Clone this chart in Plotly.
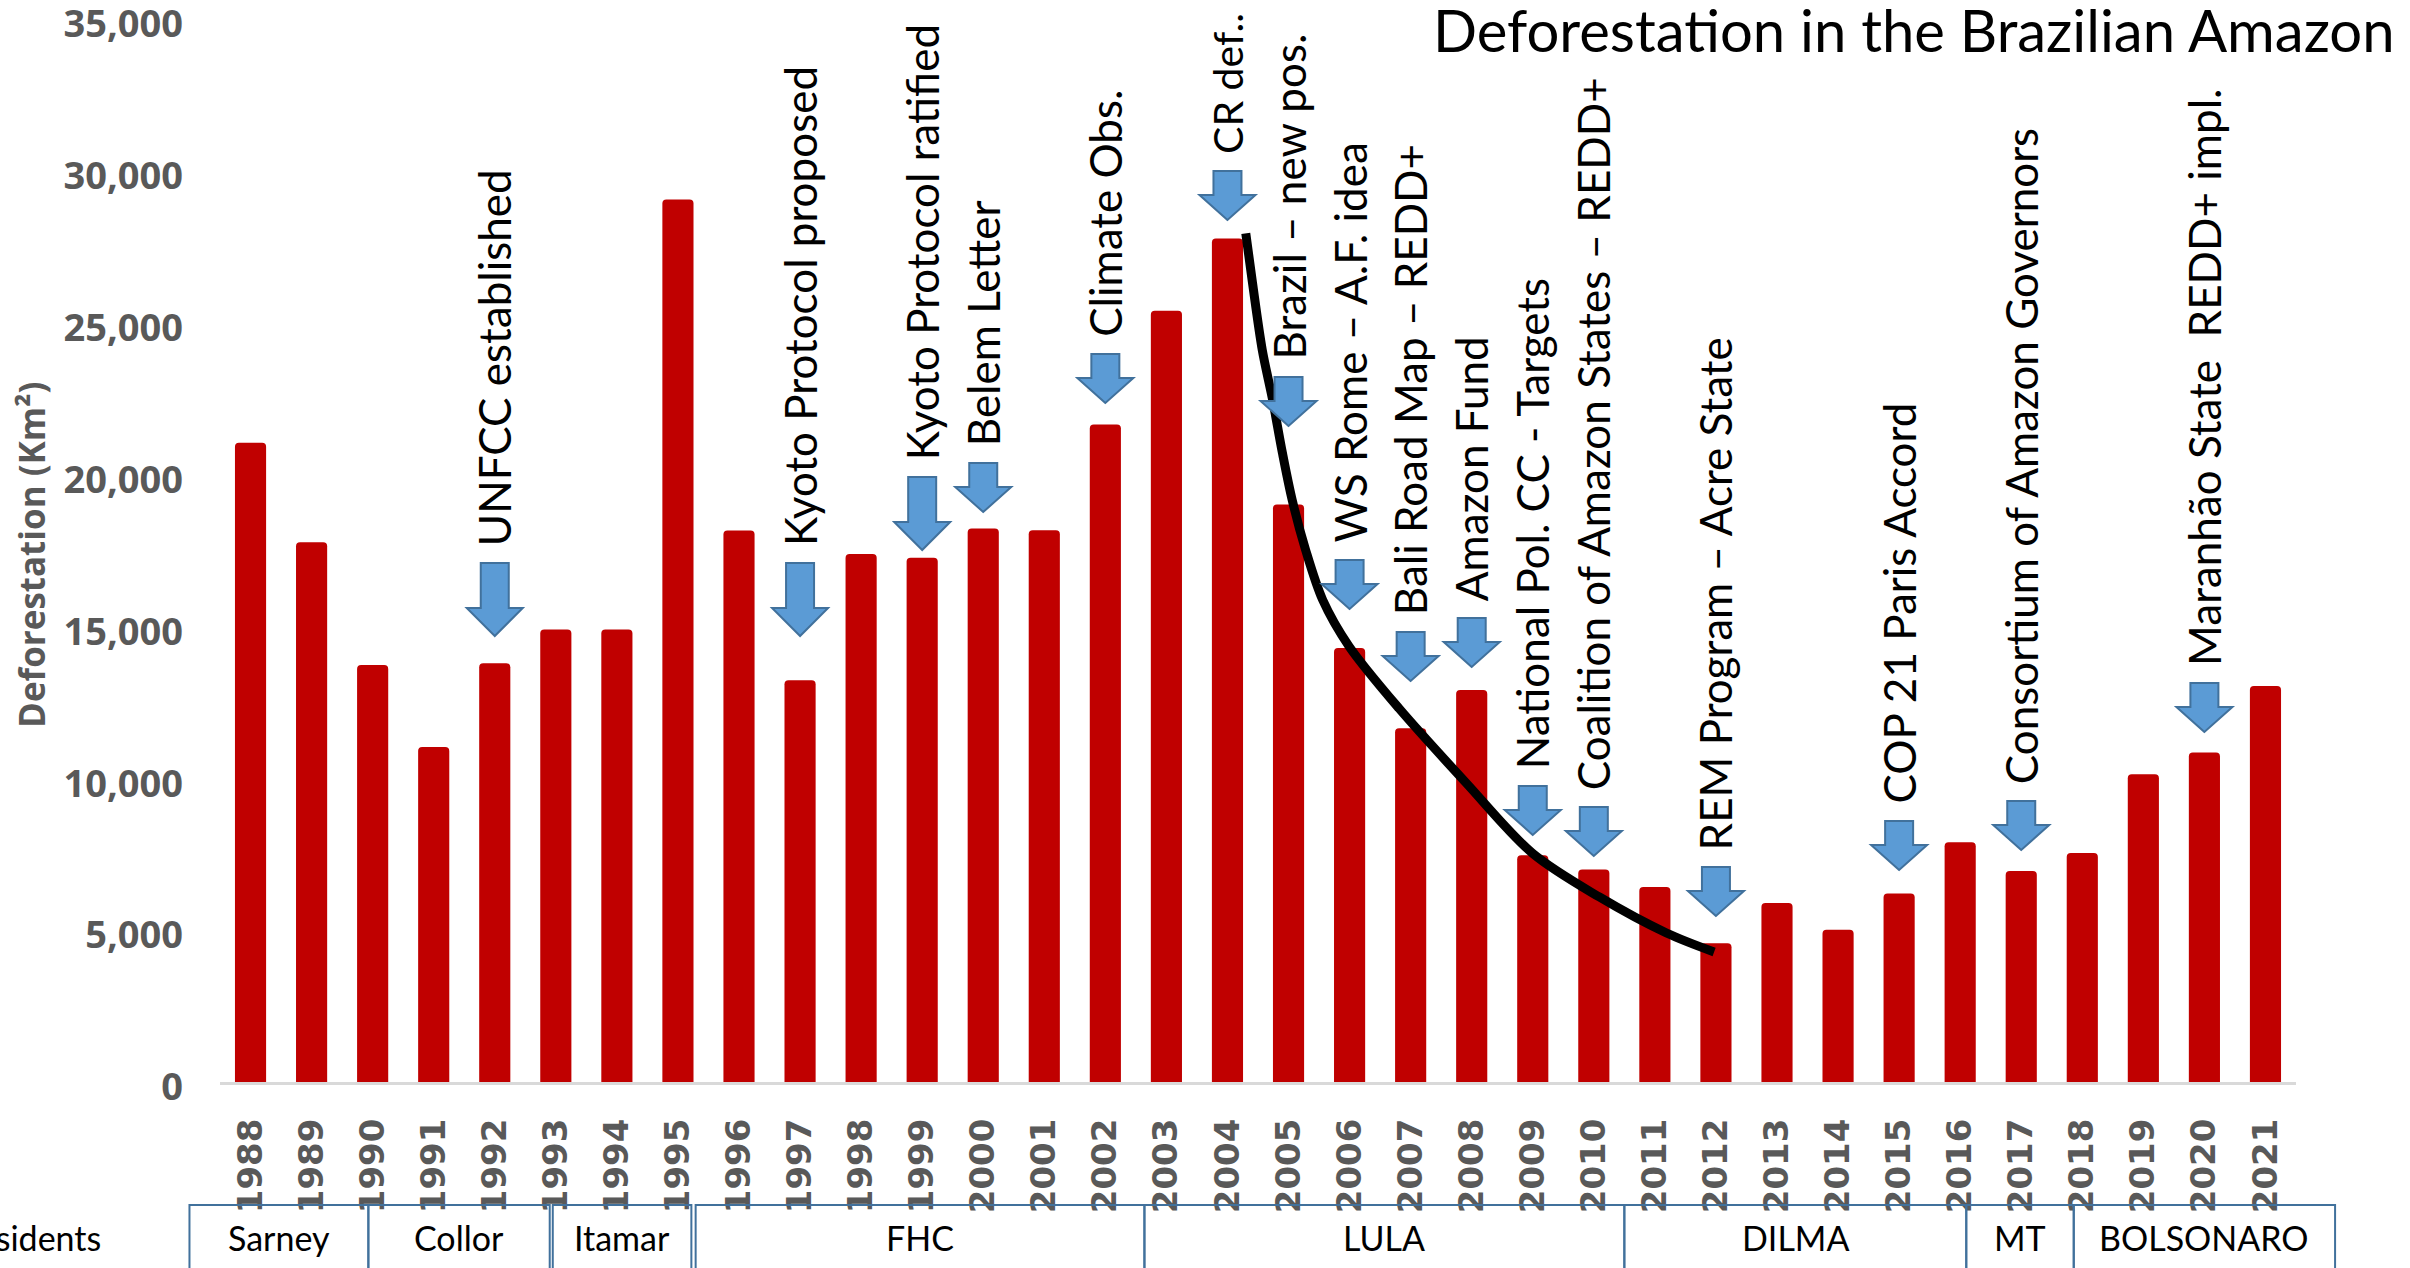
import plotly.graph_objects as go

# ---------------- data ----------------
years = list(range(1988, 2022))
deforestation = [21050, 17770, 13730, 11030, 13786, 14896, 14896, 29059, 18161, 13227,
                 17383, 17259, 18226, 18165, 21651, 25396, 27772, 19014, 14286, 11651,
                 12911, 7464, 7000, 6418, 4571, 5891, 5012, 6207, 7893, 6947,
                 7536, 10129, 10851, 13038]
year_labels = [str(y) for y in years]

# hand-drawn trend curve
trend_x = [2004.30, 2004.41, 2004.57, 2004.74, 2004.90, 2005.06, 2005.28, 2005.56,
           2005.99, 2006.81, 2007.91, 2008.99, 2010.09, 2011.19, 2011.97]
trend_y = [27945, 26309, 24103, 22457, 20711, 19164, 17517, 15871,
           14350, 12300, 9845, 7540, 6092, 4906, 4281]

event_years = [1992, 1997, 1999, 2000, 2002, 2004, 2005, 2006, 2007, 2008,
               2009, 2010, 2012, 2015, 2017, 2020]
event_labels = ["UNFCC established", "Kyoto Protocol proposed", "Kyoto Protocol ratified",
                "Belem Letter", "Climate Obs.", "CR def..", "Brazil – new pos.",
                "WS Rome – A.F. idea", "Bali Road Map – REDD+", "Amazon Fund",
                "National Pol. CC - Targets", "Coalition of Amazon States – REDD+",
                "REM Program – Acre State", "COP 21 Paris Accord",
                "Consortium of Amazon Governors", "Maranhão State\u00a0\u00a0REDD+ impl."]
event_arrow_tip = [14686, 14686, 17517, 18768, 22358, 28383, 21600, 15575, 13204, 13665,
                   8133, 7442, 5466, 6981, 7639, 11525]
event_long_arrow = [True, True, True, False, False, False, False, False, False, False,
                    False, False, False, False, False, False]

presidents = ["Sarney", "Collor", "Itamar", "FHC", "LULA", "DILMA", "MT", "BOLSONARO"]
president_box_start = [1987.0, 1989.93, 1992.95, 1995.29, 2002.64, 2010.5, 2016.1, 2017.86]
president_box_end = [1989.93, 1992.9, 1995.22, 2002.64, 2010.5, 2016.1, 2017.86, 2022.14]

# ---------------- layout constants ----------------
W, H = 2410, 1268
ML, MR, MT, MB = 220, 114, 19, 186
PW, PH = W - ML - MR, H - MT - MB
XR = (1987.5, 2021.5)


def xp(year):
    return (year - XR[0]) / (XR[1] - XR[0])


def px_to_paper_x(px):
    return (px - ML) / PW


def py_to_paper_y(py):
    return (H - MB - py) / PH


GREY = "#595959"
TXT_FONT = "Lato, 'Open Sans', sans-serif"

fig = go.Figure()
fig.add_trace(go.Bar(x=years, y=deforestation, marker=dict(color="#C00000", line=dict(width=0)),
                     hoverinfo="x+y"))
fig.add_trace(go.Scatter(x=trend_x, y=trend_y, mode="lines",
                         line=dict(color="black", width=9, shape="spline", smoothing=0.9),
                         hoverinfo="skip"))

shapes = []
annotations = []


def arrow_path(total_h, shaft_h, shaft_w=28, head_w=56):
    hw, sw = head_w / 2, shaft_w / 2
    head_h = total_h - shaft_h
    return (f"M0,0 L{-hw},{head_h} L{-sw},{head_h} L{-sw},{total_h} "
            f"L{sw},{total_h} L{sw},{head_h} L{hw},{head_h} Z")


for yr, lab, tip, long_ in zip(event_years, event_labels, event_arrow_tip, event_long_arrow):
    total_h, shaft_h = (73, 45) if long_ else (49, 24)
    fsize = 41 if len(lab) < 10 else 44
    shapes.append(dict(type="path", xref="x", yref="y", xsizemode="pixel", ysizemode="pixel",
                       xanchor=yr, yanchor=tip, path=arrow_path(total_h, shaft_h),
                       fillcolor="#5B9BD5", line=dict(color="#41719C", width=2), layer="above"))
    annotations.append(dict(x=yr, y=tip, xref="x", yref="y", text=lab, showarrow=False,
                            textangle=-90, xanchor="center", yanchor="bottom",
                            yshift=total_h + 16, borderpad=0,
                            font=dict(family=TXT_FONT, size=fsize, color="black")))

# presidents boxes
box_top = py_to_paper_y(1205)
box_bot = py_to_paper_y(1300)
for name, s, e in zip(presidents, president_box_start, president_box_end):
    shapes.append(dict(type="rect", xref="paper", yref="paper", x0=xp(s), x1=xp(e),
                       y0=box_bot, y1=box_top, line=dict(color="#41719C", width=2),
                       fillcolor="rgba(0,0,0,0)", layer="above"))
    annotations.append(dict(x=xp((s + e) / 2), y=py_to_paper_y(1238), xref="paper", yref="paper",
                            text=name, showarrow=False, xanchor="center", yanchor="middle",
                            font=dict(family=TXT_FONT, size=34, color="black")))

annotations.append(dict(x=px_to_paper_x(103), y=py_to_paper_y(1238), xref="paper", yref="paper",
                        text="Presidents", showarrow=False, xanchor="right", yanchor="middle",
                        font=dict(family=TXT_FONT, size=34, color="black")))

# title
annotations.append(dict(x=px_to_paper_x(2397), y=py_to_paper_y(29), xref="paper", yref="paper",
                        text="Deforestation in the Brazilian Amazon", showarrow=False,
                        xanchor="right", yanchor="middle",
                        font=dict(family=TXT_FONT, size=58, color="black")))

# y axis title
annotations.append(dict(x=px_to_paper_x(31), y=py_to_paper_y(555), xref="paper", yref="paper",
                        text="Deforestation (Km²)", showarrow=False, textangle=-90,
                        xanchor="center", yanchor="middle",
                        font=dict(family="'Open Sans', sans-serif", size=35, color=GREY,
                                  weight="bold")))

fig.update_layout(
    width=W, height=H,
    margin=dict(l=ML, r=MR, t=MT, b=MB, pad=0, autoexpand=False),
    paper_bgcolor="white", plot_bgcolor="white",
    showlegend=False, bargap=0.49, barcornerradius=4,
    shapes=shapes, annotations=annotations,
    xaxis=dict(range=list(XR), tickmode="array", tickvals=years, ticktext=year_labels,
               tickangle=-90, showgrid=False, zeroline=False, showline=True,
               linecolor="#D9D9D9", linewidth=3, ticks="", ticklabelstandoff=20,
               automargin=False,
               tickfont=dict(family="'DejaVu Sans', sans-serif", size=34, color=GREY,
                             weight="bold")),
    yaxis=dict(range=[0, 35000.5], tickmode="array", tickvals=list(range(0, 35001, 5000)),
               tickformat=",", showgrid=False, zeroline=False, showline=False, ticks="",
               ticklabelstandoff=36, ticklabelshift=5, ticklabeloverflow="allow",
               automargin=False,
               tickfont=dict(family="'Open Sans', sans-serif", size=38, color=GREY,
                             weight="bold")),
)

fig.write_html("out.html", config={"displayModeBar": False},
               post_script="document.body.style.margin='0';document.body.style.overflow='hidden';")
